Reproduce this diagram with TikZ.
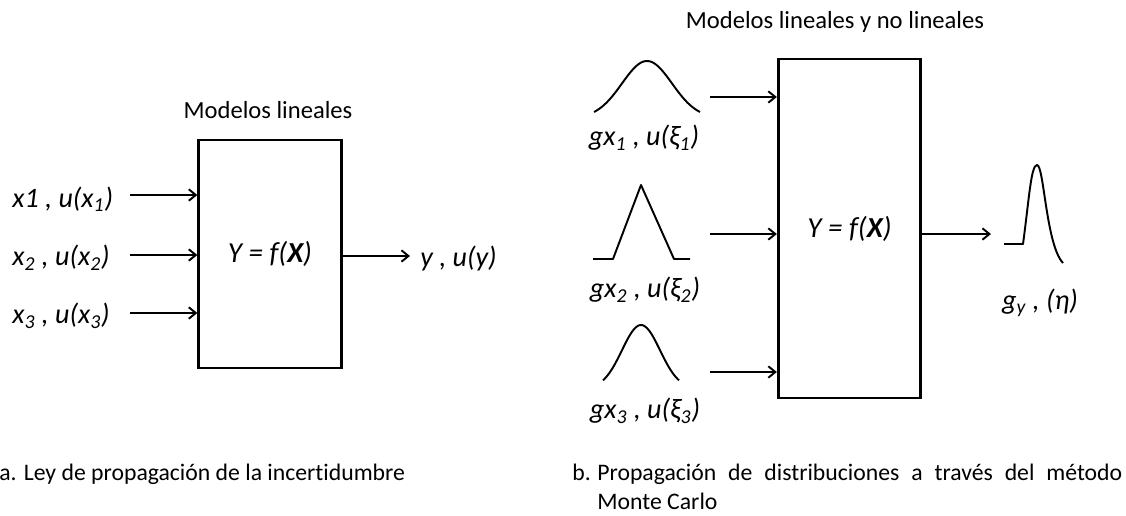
\documentclass[tikz,border=0pt]{standalone}
\usepackage{fontspec}
\setmainfont{Carlito}[Ligatures=NoCommon]
\usetikzlibrary{arrows.meta,positioning,calc}

\tikzset{
  modelbox/.style={draw,line width=1.6pt,minimum width=2.85cm,inner sep=0pt,font=\fontsize{16.5}{19}\selectfont\itshape},
  lab/.style={font=\fontsize{16}{19}\selectfont\itshape},
  caption/.style={anchor=base west,font=\fontsize{13.5}{16}\selectfont},
  flow/.style={-{Straight Barb[length=4pt,width=6.5pt]},line width=1.1pt},
  curve/.style={line width=1.1pt,line join=round}
}

\begin{document}
\begin{tikzpicture}[x=0.02cm,y=-0.02cm, every node/.style={font=\fontsize{14}{17}\selectfont,inner sep=0pt}]
  \useasboundingbox (0,0) rectangle (1126,515);

  % a. linear model
  \node[modelbox,minimum height=4.56cm] (lbox) at (270,254) {Y = f(\textbf{X})};
  \node (ltitle) at (268,110) {Modelos lineales};
  \node[anchor=west,lab] (x1) at (12,199) {x1 , u(x\textsubscript{1})};
  \node[anchor=west,lab] (x2) at (12,258) {x\textsubscript{2} , u(x\textsubscript{2})};
  \node[anchor=west,lab] (x3) at (12,316) {x\textsubscript{3} , u(x\textsubscript{3})};
  \node[anchor=west,lab] (yout) at (420,258) {y , u(y)};
  \foreach \i/\y in {1/195,2/255,3/313}{
    \coordinate (in\i) at (130,\y);
    \draw[flow] (in\i) -- (in\i -| lbox.west);
  }
  \draw[flow] (lbox.east |- 0,256) -- ([xshift=-0.2cm]yout.west |- 0,256);

  % b. Monte Carlo
  \node[modelbox,minimum height=6.78cm] (rbox) at (849.5,228.5) {Y = f(\textbf{X})};
  \node (rtitle) at (835,22) {Modelos lineales y no lineales};
  \node[lab] (g1) at (644,138) {gx\textsubscript{1} , u(ξ\textsubscript{1})};
  \node[lab] (g2) at (645,290) {gx\textsubscript{2} , u(ξ\textsubscript{2})};
  \node[lab] (g3) at (645,411) {gx\textsubscript{3} , u(ξ\textsubscript{3})};
  \node[lab] (gy) at (1040,303) {g\textsubscript{y} , (η)};
  \foreach \i/\y in {1/97,2/234,3/372}{
    \coordinate (din\i) at (710,\y);
    \draw[flow] (din\i) -- (din\i -| rbox.west);
  }
  \coordinate (dout) at (991,234);
  \draw[flow] (rbox.east |- dout) -- (dout);

  % distributions
  \draw[curve] plot[domain=594:700,samples=60,smooth] (\x,{118-57*exp(-((\x-647)/25)^2/2)});
  \draw[curve] (593,259) -- (613,259) -- (641,185) -- (674,259) -- (690,259);
  \draw[curve] plot[domain=603:679,samples=60,smooth] (\x,{389-64*exp(-((\x-641)/19)^2/2)});
  \draw[curve] (1004,244) -- (1023,244) .. controls (1029,200) and (1031,165) .. (1037,165)
    .. controls (1044,165) and (1046,245) .. (1063,263);

  % captions
  \node[caption] (capa) at (-1,480) {a. Ley de propagación de la incertidumbre};
  \node[caption] (capb) at (572,480) {b.};
  \node[caption] (capb1) at (597,480) {\makebox[10.5cm][s]{Propagación de distribuciones a través del método}};
  \node[caption] (capb2) at (597,509) {Monte Carlo};
\end{tikzpicture}
\end{document}
